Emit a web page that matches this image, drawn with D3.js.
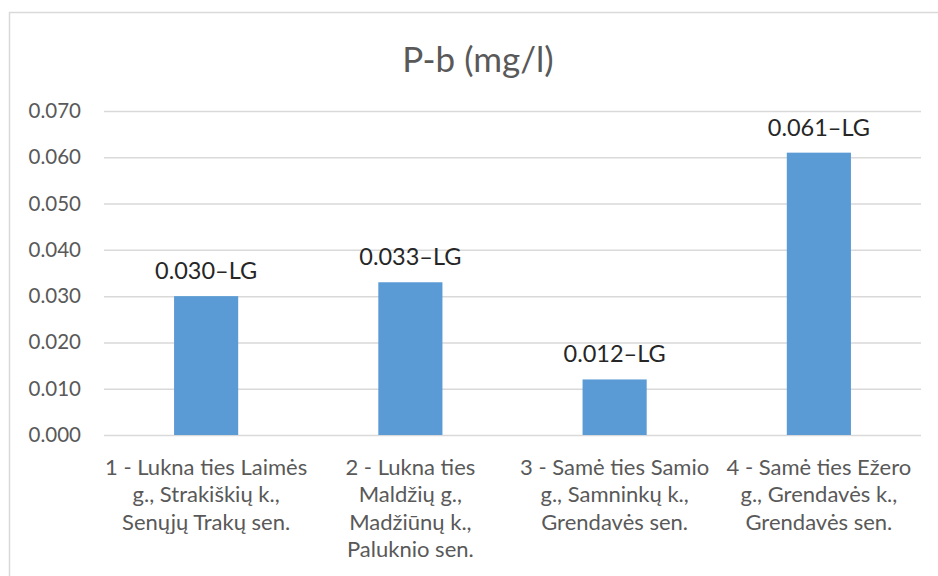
<!DOCTYPE html>
<html><head><meta charset="utf-8">
<script src="https://cdn.jsdelivr.net/npm/d3@7"></script>
<style>body{margin:0;background:#fff}svg{display:block}text{font-family:Lato,"Open Sans",sans-serif}</style>
</head><body>
<svg id="c" width="938" height="576"></svg>
<script>
const title = "P-b (mg/l)";
const categories = [
  ["1 - Lukna ties Laimės","g., Strakiškių k.,","Senųjų Trakų sen."],
  ["2 - Lukna ties","Maldžių g.,","Madžiūnų k.,","Paluknio sen."],
  ["3 - Samė ties Samio","g., Samninkų k.,","Grendavės sen."],
  ["4 - Samė ties Ežero","g., Grendavės k.,","Grendavės sen."]
];
const values = [0.030, 0.033, 0.012, 0.061];
const labels = ["0.030–LG","0.033–LG","0.012–LG","0.061–LG"];
const yTicks = [0,0.01,0.02,0.03,0.04,0.05,0.06,0.07];

const svg = d3.select("#c");
svg.append("rect").attr("x",9.5).attr("y",12.5).attr("width",940).attr("height",600)
  .attr("fill","#fff").attr("stroke","#d9d9d9").attr("stroke-width",1.5);

const pL=104, pR=921, pT=111, pB=435;
const x = d3.scaleBand().domain(d3.range(values.length)).range([pL,pR]).paddingInner(0.686).paddingOuter(0.343);
const y = d3.scaleLinear().domain([0,0.07]).range([pB,pT]);

svg.append("text").attr("x",478).attr("y",72).attr("text-anchor","middle")
  .attr("font-size",35).attr("fill","#595959").text(title);

const ya = svg.append("g").attr("transform",`translate(${pL},0)`)
  .call(d3.axisLeft(y).tickValues(yTicks).tickFormat(d3.format(".3f")).tickSize(-(pR-pL)).tickPadding(23));
ya.select(".domain").remove();
ya.selectAll(".tick line").attr("stroke","#d9d9d9").attr("stroke-width",1.5);
ya.selectAll(".tick text").attr("font-size",20.5).attr("fill","#595959").attr("font-family","Lato");

svg.append("g").selectAll("rect").data(values).join("rect")
  .attr("x",(d,i)=>x(i)).attr("width",x.bandwidth())
  .attr("y",d=>y(d)).attr("height",d=>y(0)-y(d)).attr("fill","#5b9bd5");

svg.append("g").selectAll("text").data(values).join("text")
  .attr("x",(d,i)=>x(i)+x.bandwidth()/2).attr("y",d=>y(d)-17)
  .attr("text-anchor","middle").attr("font-size",23.5).attr("fill","#262626")
  .text((d,i)=>labels[i]);

const cg = svg.append("g");
categories.forEach((lines,i)=>{
  const t = cg.append("text").attr("text-anchor","middle").attr("font-size",22).attr("fill","#595959");
  lines.forEach((ln,j)=>{
    t.append("tspan").attr("x",x(i)+x.bandwidth()/2).attr("y",475+j*27.3).text(ln);
  });
});
</script>
</body></html>
